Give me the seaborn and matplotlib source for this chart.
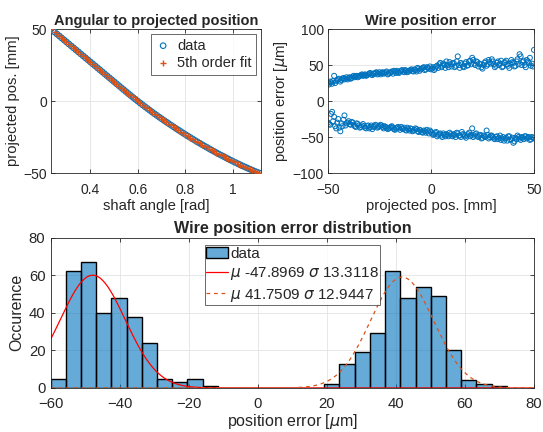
import numpy as np
import pandas as pd
import matplotlib
matplotlib.use("Agg")
import matplotlib.pyplot as plt
import seaborn as sns

# ---------------- data ----------------
shaft_angle = [0.235, 0.25, 0.26, 0.27, 0.28, 0.29, 0.30, 0.31, 0.32, 0.33, 0.34, 0.35, 0.36, 0.37,
               0.38, 0.39, 0.40, 0.41, 0.42, 0.43, 0.44, 0.45, 0.46, 0.47, 0.48, 0.49, 0.50, 0.51,
               0.52, 0.53, 0.54, 0.55, 0.56, 0.57, 0.58, 0.59, 0.60, 0.61, 0.62, 0.63, 0.64, 0.65,
               0.66, 0.67, 0.68, 0.69, 0.70, 0.71, 0.72, 0.73, 0.74, 0.75, 0.76, 0.77, 0.78, 0.79,
               0.80, 0.81, 0.82, 0.83, 0.84, 0.85, 0.86, 0.87, 0.88, 0.89, 0.90, 0.91, 0.92, 0.93,
               0.94, 0.95, 0.96, 0.97, 0.98, 0.99, 1.00, 1.01, 1.02, 1.03, 1.04, 1.05, 1.06, 1.07,
               1.08, 1.09, 1.10, 1.11]
projected_pos = [50.00, 47.93, 46.55, 45.17, 43.79, 42.41, 41.03, 39.65, 38.27, 36.89, 35.51, 34.13,
                 32.75, 31.37, 29.99, 28.61, 27.23, 25.85, 24.47, 23.09, 21.71, 20.33, 18.95, 17.57,
                 16.19, 14.81, 13.43, 12.05, 10.67, 9.29, 7.91, 6.53, 5.16, 3.81, 2.48, 1.16, -0.14,
                 -1.43, -2.70, -3.96, -5.20, -6.43, -7.64, -8.84, -10.02, -11.19, -12.34, -13.48,
                 -14.61, -15.73, -16.84, -17.94, -19.03, -20.11, -21.18, -22.24, -23.29, -24.32,
                 -25.34, -26.35, -27.35, -28.34, -29.32, -30.29, -31.25, -32.20, -33.14, -34.07,
                 -34.99, -35.90, -36.79, -37.67, -38.54, -39.40, -40.25, -41.09, -41.91, -42.72,
                 -43.52, -44.30, -45.07, -45.82, -46.56, -47.29, -48.00, -48.70, -49.39, -50.00]

# wire position error, first sweep (integer positions)
err_pos_mm = [-50, -49, -48, -47, -46, -45, -44, -43, -42, -41, -40, -39, -38, -37, -36, -35, -34,
              -33, -32, -31, -30, -29, -28, -27, -26, -25, -24, -23, -22, -21, -20, -19, -18, -17,
              -16, -15, -14, -13, -12, -11, -10, -9, -8, -7, -6, -5, -4, -3, -2, -1, 0, 1, 2, 3,
              4, 5, 6, 7, 8, 9, 10, 11, 12, 13, 14, 15, 16, 17, 18, 19, 20, 21, 22, 23, 24, 25,
              26, 27, 28, 29, 30, 31, 32, 33, 34, 35, 36, 37, 38, 39, 40, 41, 42, 43, 44, 45, 46,
              47, 48, 49, 50]
err_upper_um = [25, 27, 24, 35, 28, 30, 27, 31, 30, 33, 32, 31, 34, 33, 35, 34, 36, 35, 37, 36,
                38, 37, 38, 39, 37, 40, 39, 38, 40, 37, 39, 41, 42, 39, 40, 41, 43, 40, 42, 41,
                43, 42, 44, 41, 45, 44, 46, 43, 47, 45, 44, 47, 45, 49, 51, 47, 52, 46, 50, 54,
                48, 53, 49, 62, 46, 51, 47, 54, 50, 56, 60, 52, 55, 48, 51, 45, 53, 49, 57, 52,
                55, 47, 53, 50, 56, 48, 54, 51, 46, 57, 53, 49, 58, 65, 50, 56, 47, 55, 60, 52, 71]
err_lower_um = [-30, -33, -15, -22, -38, -25, -42, -35, -20, -31, -28, -33, -30, -35, -31, -34,
                -36, -32, -37, -35, -38, -34, -36, -33, -37, -35, -34, -38, -36, -39, -37, -35,
                -39, -38, -36, -40, -38, -37, -41, -39, -38, -42, -40, -39, -43, -41, -44, -42,
                -40, -45, -43, -47, -44, -49, -46, -48, -45, -49, -47, -44, -48, -46, -50, -45,
                -48, -43, -47, -51, -46, -49, -38, -48, -45, -50, -47, -51, -49, -41, -52, -48,
                -50, -53, -49, -51, -54, -50, -52, -55, -49, -53, -58, -51, -48, -52, -50, -53,
                -49, -51, -54, -50, -52]

# wire position error, second sweep (half-integer positions)
err_pos_mm_b = [-49.5, -48.5, -47.5, -46.5, -45.5, -44.5, -43.5, -42.5, -41.5, -40.5,
                -39.5, -38.5, -37.5, -36.5, -35.5, -34.5, -33.5, -32.5, -31.5, -30.5,
                -29.5, -28.5, -27.5, -26.5, -25.5, -24.5, -23.5, -22.5, -21.5, -20.5,
                -19.5, -18.5, -17.5, -16.5, -15.5, -14.5, -13.5, -12.5, -11.5, -10.5,
                -9.5, -8.5, -7.5, -6.5, -5.5, -4.5, -3.5, -2.5, -1.5, -0.5,
                0.5, 1.5, 2.5, 3.5, 4.5, 5.5, 6.5, 7.5, 8.5, 9.5,
                10.5, 11.5, 12.5, 13.5, 14.5, 15.5, 16.5, 17.5, 18.5, 19.5,
                20.5, 21.5, 22.5, 23.5, 24.5, 25.5, 26.5, 27.5, 28.5, 29.5,
                30.5, 31.5, 32.5, 33.5, 34.5, 35.5, 36.5, 37.5, 38.5, 39.5,
                40.5, 41.5, 42.5, 43.5, 44.5, 45.5, 46.5, 47.5, 48.5, 49.5]
err_upper_um_b = [23, 26, 28, 25, 29, 31, 29, 32, 31, 30,
                  33, 32, 35, 34, 33, 35, 37, 36, 35, 37,
                  39, 36, 38, 40, 38, 37, 40, 39, 41, 38,
                  40, 38, 41, 42, 39, 42, 41, 43, 40, 42,
                  44, 41, 43, 46, 42, 45, 47, 44, 46, 48,
                  45, 43, 48, 46, 53, 49, 50, 55, 47, 51,
                  52, 47, 55, 50, 53, 48, 52, 49, 55, 51,
                  57, 50, 54, 52, 47, 50, 55, 51, 54, 58,
                  51, 49, 55, 52, 47, 53, 56, 49, 52, 54,
                  48, 55, 51, 62, 54, 50, 57, 53, 49, 48]
err_lower_um_b = [-32, -18, -28, -35, -30, -37, -31, -26, -34, -30,
                  -32, -29, -33, -36, -32, -37, -34, -35, -38, -34,
                  -36, -39, -35, -34, -36, -33, -36, -35, -37, -38,
                  -36, -37, -40, -37, -38, -36, -39, -40, -37, -41,
                  -39, -41, -38, -42, -40, -43, -41, -44, -42, -41,
                  -45, -46, -43, -47, -45, -50, -47, -46, -49, -46,
                  -49, -47, -44, -48, -50, -46, -49, -48, -44, -47,
                  -50, -46, -49, -48, -52, -48, -50, -47, -50, -48,
                  -52, -50, -53, -48, -52, -55, -51, -49, -54, -51,
                  -56, -53, -50, -54, -51, -49, -52, -50, -53, -51]

hist_counts = [5, 62, 67, 40, 48, 38, 24, 5, 3, 5, 1, 0, 0, 0, 0, 0, 0, 0,
               2, 13, 19, 29, 62, 48, 54, 49, 20, 4, 2, 1]
hist_min, hist_max = -60.1, 72.1

mu_neg, sigma_neg, amp_neg = -47.8969, 13.3118, 60.0
mu_pos, sigma_pos, amp_pos = 41.7509, 12.9447, 59.0

# ---------------- style ----------------
BLUE = "#0072BD"
ORANGE = "#D95319"
sns.set_theme(style="white")
plt.rcParams["font.family"] = ["Liberation Sans", "DejaVu Sans"]
plt.rcParams["mathtext.fontset"] = "dejavusans"
plt.rcParams["axes.edgecolor"] = "#262626"
plt.rcParams["axes.linewidth"] = 0.6

fig = plt.figure(figsize=(5.43, 4.32), dpi=100)
ax1 = fig.add_axes([0.0939, 0.5995, 0.3867, 0.3333])
ax2 = fig.add_axes([0.604, 0.5995, 0.3794, 0.3333])
ax3 = fig.add_axes([0.0939, 0.1019, 0.8895, 0.348])

def style(ax, size=10, xpad=7.5, ypad=3):
    ax.grid(True, color="#e3e3e3", linewidth=0.6)
    ax.set_axisbelow(True)
    ax.tick_params(direction="in", length=3, width=0.6, labelsize=size, colors="#262626",
                   top=True, right=True, bottom=True, left=True)
    ax.tick_params(axis="x", pad=xpad)
    ax.tick_params(axis="y", pad=ypad)
    for s in ax.spines.values():
        s.set_visible(True)
        s.set_color("#262626")
        s.set_linewidth(0.6)

# top-left
ang = np.array(shaft_angle)
pos = np.array(projected_pos)
coef = np.polyfit(ang, pos, 5)
fit = np.polyval(coef, ang)
sns.scatterplot(x=ang, y=pos, ax=ax1, marker="o", s=16, color=BLUE, facecolor="none",
                edgecolor=BLUE, linewidth=0.8, label="data", zorder=3)
sns.scatterplot(x=ang, y=fit, ax=ax1, marker="+", s=14, color=ORANGE, edgecolor=ORANGE,
                linewidth=1.0, label="5th order fit", zorder=4)
ax1.set_xlim(0.235, 1.117)
ax1.set_ylim(-50, 50)
ax1.set_xticks([0.4, 0.6, 0.8, 1.0])
ax1.set_xticklabels(["0.4", "0.6", "0.8", "1"])
ax1.set_yticks([-50, 0, 50])
ax1.set_xlabel("shaft angle [rad]", fontsize=10.7, labelpad=1)
ax1.set_ylabel("projected pos. [mm]", fontsize=10.7, labelpad=2)
ax1.set_title("Angular to projected position", fontsize=10.5, fontweight="bold", pad=3)
style(ax1, ypad=3)
leg1 = ax1.legend(loc="upper right", fontsize=10.5, frameon=True, fancybox=False,
                  edgecolor="#262626", borderpad=0.3, handletextpad=0.45, labelspacing=0.25,
                  borderaxespad=0.35, handlelength=1.0)
leg1.get_frame().set_linewidth(0.6)

# top-right
for xs, ys in [(err_pos_mm, err_upper_um), (err_pos_mm_b, err_upper_um_b),
               (err_pos_mm, err_lower_um), (err_pos_mm_b, err_lower_um_b)]:
    sns.scatterplot(x=xs, y=ys, ax=ax2, marker="o", s=13, color=BLUE,
                    facecolor="none", edgecolor=BLUE, linewidth=0.7, clip_on=True)
ax2.set_xlim(-50, 50)
ax2.set_ylim(-100, 100)
ax2.set_xticks([-50, 0, 50])
ax2.set_yticks([-100, -50, 0, 50, 100])
ax2.set_xlabel("projected pos. [mm]", fontsize=10.7, labelpad=1)
ax2.set_ylabel(r"position error [$\mu$m]", fontsize=10.7, labelpad=2)
ax2.set_title("Wire position error", fontsize=10.5, fontweight="bold", pad=3)
style(ax2, ypad=3)

# bottom histogram
edges = np.linspace(hist_min, hist_max, len(hist_counts) + 1)
centers = (edges[:-1] + edges[1:]) / 2
hist_df = pd.DataFrame({"err": centers, "count": hist_counts})
sns.histplot(data=hist_df, x="err", weights="count", bins=list(edges), ax=ax3, color=BLUE,
             alpha=0.6, edgecolor="black", linewidth=1.0, label="data")
xg = np.linspace(-60, 80, 400)
df_neg = pd.DataFrame({"x": xg, "y": amp_neg * np.exp(-((xg - mu_neg) / sigma_neg) ** 2)})
df_pos = pd.DataFrame({"x": xg, "y": amp_pos * np.exp(-((xg - mu_pos) / sigma_pos) ** 2)})
sns.lineplot(data=df_neg, x="x", y="y", ax=ax3, color="red", linewidth=0.9,
             label=rf"$\mu$ {mu_neg:.4f} $\sigma$ {sigma_neg:.4f}")
sns.lineplot(data=df_pos, x="x", y="y", ax=ax3, color=ORANGE, linewidth=0.9, linestyle=(0, (3, 3)),
             label=rf"$\mu$ {mu_pos:.4f} $\sigma$ {sigma_pos:.4f}")
ax3.set_xlim(-60, 80)
ax3.set_ylim(0, 80)
ax3.set_xticks(np.arange(-60, 81, 20))
ax3.set_yticks(np.arange(0, 81, 20))
ax3.set_xlabel(r"position error [$\mu$m]", fontsize=11.5, labelpad=1)
ax3.set_ylabel("Occurence", fontsize=11.5, labelpad=3)
ax3.set_title("Wire position error distribution", fontsize=11.6, fontweight="bold", pad=3)
style(ax3, size=10.7, xpad=6.5, ypad=4)
handles, labels = ax3.get_legend_handles_labels()
order = [labels.index("data")] + [i for i, l in enumerate(labels) if l != "data"]
leg3 = ax3.legend([handles[i] for i in order], [labels[i] for i in order],
                  loc="upper center", fontsize=11, frameon=True, fancybox=False,
                  edgecolor="#262626", borderpad=0.08, handletextpad=0.15, labelspacing=0.3,
                  borderaxespad=0.5, handlelength=1.45)
leg3.get_frame().set_linewidth(0.6)

fig.savefig("out.png", dpi=100)
